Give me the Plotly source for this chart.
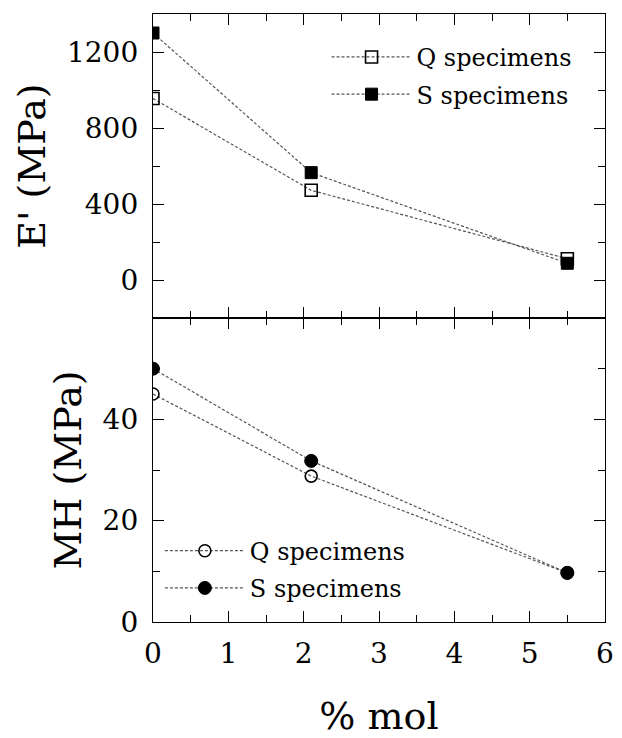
import plotly.graph_objects as go
from plotly.subplots import make_subplots

# ---- data ----
mol = [0.0, 2.1, 5.5]
E_Q = [955, 472, 112]
E_S = [1300, 565, 88]
MH_Q = [45.0, 28.8, 9.7]
MH_S = [50.0, 31.8, 9.7]
series_names = ["Q specimens", "S specimens"]
x_ticks = [0, 1, 2, 3, 4, 5, 6]
x_minor = [0.5, 1.5, 2.5, 3.5, 4.5, 5.5]
E_ticks = [0, 400, 800, 1200]
E_minor = [-200, 200, 600, 1000]
MH_ticks = [0, 20, 40]
MH_minor = [10, 30, 50]

FONT = "DejaVu Serif, Liberation Serif, Times New Roman, serif"
LINE = dict(color="#555555", width=1.2, dash="3px,2px")

fig = make_subplots(rows=2, cols=1, shared_xaxes=True, vertical_spacing=0)

fig.add_trace(go.Scatter(x=mol, y=E_Q, name=series_names[0], mode="lines+markers",
                         line=LINE, legend="legend", legendgroup="q1",
                         marker=dict(symbol="square-open", size=12, color="black",
                                     line=dict(width=1.6, color="black"))), row=1, col=1)
fig.add_trace(go.Scatter(x=mol, y=E_S, name=series_names[1], mode="lines+markers",
                         line=LINE, legend="legend", legendgroup="s1",
                         marker=dict(symbol="square", size=12, color="black",
                                     line=dict(width=1, color="black"))), row=1, col=1)
fig.add_trace(go.Scatter(x=mol, y=MH_Q, name=series_names[0], mode="lines+markers",
                         line=LINE, legend="legend2", legendgroup="q2",
                         marker=dict(symbol="circle-open", size=12, color="black",
                                     line=dict(width=1.6, color="black"))), row=2, col=1)
fig.add_trace(go.Scatter(x=mol, y=MH_S, name=series_names[1], mode="lines+markers",
                         line=LINE, legend="legend2", legendgroup="s2",
                         marker=dict(symbol="circle", size=13, color="black",
                                     line=dict(width=1, color="black"))), row=2, col=1)

axis_common = dict(showline=True, linecolor="black", linewidth=1.3, mirror="allticks",
                   ticks="inside", ticklen=11, tickwidth=1.3, tickcolor="black",
                   showgrid=False, zeroline=False, tickmode="array",
                   tickfont=dict(family=FONT, size=28, color="black"))
minor_common = dict(ticks="inside", ticklen=7, tickwidth=1.4, tickcolor="black",
                    showgrid=False, tickmode="array")

fig.update_xaxes(**axis_common, range=[0, 6], tickvals=x_ticks,
                 minor=dict(**minor_common, tickvals=x_minor))
fig.update_xaxes(showticklabels=False, row=1, col=1)
fig.update_xaxes(showticklabels=True, ticklabelstandoff=6, ticklabeloverflow="allow",
                 title=dict(text="% mol", font=dict(family=FONT, size=38, color="black"),
                            standoff=34), row=2, col=1)

fig.update_yaxes(**axis_common, range=[-200, 1400], tickvals=E_ticks,
                 minor=dict(**minor_common, tickvals=E_minor),
                 ticklabelstandoff=8,
                 title=dict(text="E' (MPa)", font=dict(family=FONT, size=38, color="black"),
                            standoff=9), row=1, col=1)
fig.update_yaxes(**axis_common, range=[0, 60], tickvals=MH_ticks,
                 minor=dict(**minor_common, tickvals=MH_minor),
                 ticklabelstandoff=8,
                 title=dict(text="MH (MPa)", font=dict(family=FONT, size=38, color="black"),
                            standoff=9), row=2, col=1)

legend_common = dict(font=dict(family=FONT, size=24, color="black"),
                     bgcolor="rgba(0,0,0,0)", borderwidth=0,
                     xanchor="left", yanchor="top", itemwidth=80,
                     tracegroupgap=3)

fig.update_layout(
    width=622, height=738,
    margin=dict(l=153, r=8, t=14, b=112),
    paper_bgcolor="white", plot_bgcolor="white",
    font=dict(family=FONT, color="black"),
    showlegend=True,
    legend=dict(**legend_common, x=(330 - 153) / 461, y=(626 - 35) / 612),
    legend2=dict(**legend_common, x=(160 - 153) / 461, y=(626 - 532) / 612),
)

fig.write_html("out.html")
